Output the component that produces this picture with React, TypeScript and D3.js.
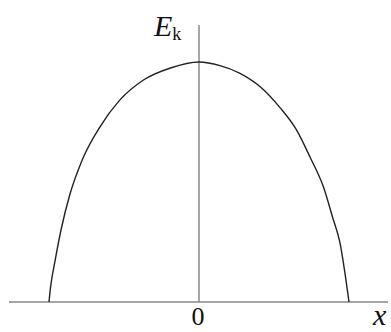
import React from "react";
import * as d3 from "d3";

// Kinetic energy profile E_k as a function of position x
const positions = [
  -1.0, -0.99, -0.96, -0.92, -0.86, -0.78, -0.66, -0.53, -0.37, -0.19, 0,
  0.14, 0.27, 0.41, 0.54, 0.65, 0.74, 0.83, 0.89, 0.94, 0.97, 1.0,
];
const kineticEnergy = [
  0, 0.06, 0.17, 0.3, 0.45, 0.59, 0.73, 0.84, 0.925, 0.975, 1.0,
  0.985, 0.954, 0.896, 0.81, 0.717, 0.604, 0.479, 0.354, 0.246, 0.133, 0,
];
const originLabel = "0";
const xLabel = "x";
const yLabel = "E";
const ySub = "k";

const W = 391;
const H = 332;

export default function App() {
  const xScale = d3.scaleLinear().domain([-1, 1]).range([49, 349]);
  const yScale = d3.scaleLinear().domain([0, 1]).range([302, 62]);

  const pts: [number, number][] = positions.map((p, i) => [p, kineticEnergy[i]]);
  const line = d3
    .line<[number, number]>()
    .x((d) => xScale(d[0]))
    .y((d) => yScale(d[1]))
    .curve(d3.curveMonotoneX);

  const x0 = xScale(0);
  const y0 = yScale(0);
  const font = "'Liberation Serif', 'Times New Roman', serif";

  return (
    <svg
      width={W}
      height={H}
      style={{ position: "absolute", left: 0, top: 0, background: "#fff" }}
    >
      {/* axes */}
      <line x1={9} x2={388} y1={y0} y2={y0} stroke="#a6a6a6" strokeWidth={2} />
      <line x1={x0} x2={x0} y1={25} y2={y0} stroke="#8a8a8a" strokeWidth={1.5} />
      {/* curve */}
      <path d={line(pts) || ""} fill="none" stroke="#222" strokeWidth={1.4} />
      {/* labels */}
      <text x={154} y={36} fontFamily={font} fontSize={30} fill="#111">
        <tspan fontStyle="italic">{yLabel}</tspan>
        <tspan fontSize={18} dy={4}>{ySub}</tspan>
      </text>
      <text x={x0 - 1} y={325} fontFamily={font} fontSize={26} textAnchor="middle" fill="#111">
        {originLabel}
      </text>
      <text x={373} y={325} fontFamily={font} fontSize={30} fontStyle="italic" fill="#111">
        {xLabel}
      </text>
    </svg>
  );
}
